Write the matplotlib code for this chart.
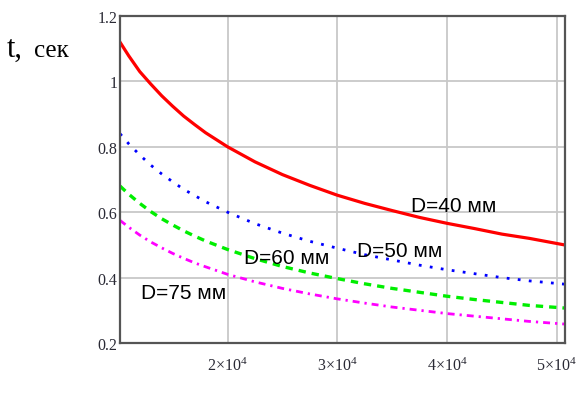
import matplotlib
matplotlib.use("Agg")
import matplotlib.pyplot as plt

# x values (abscissa) and times t, sec
x_vals = [10200, 11000, 12000, 13000, 14000, 15000, 16000, 17000, 18000,
          20000, 22500, 25000, 27500, 30000, 32500, 35000, 37500, 40000,
          42500, 45000, 47500, 50700]
t_d40 = [1.12, 1.078, 1.03, 0.992, 0.956, 0.924, 0.894, 0.868, 0.843,
         0.80, 0.754, 0.715, 0.682, 0.652, 0.627, 0.605, 0.584, 0.566,
         0.55, 0.533, 0.52, 0.50]
t_d50 = [0.84, 0.809, 0.775, 0.744, 0.717, 0.693, 0.67, 0.651, 0.632,
         0.60, 0.565, 0.536, 0.511, 0.49, 0.47, 0.454, 0.438, 0.424,
         0.412, 0.40, 0.39, 0.38]
t_d60 = [0.68, 0.655, 0.627, 0.602, 0.58, 0.561, 0.543, 0.527, 0.512,
         0.486, 0.458, 0.434, 0.414, 0.397, 0.381, 0.367, 0.355, 0.343,
         0.333, 0.324, 0.315, 0.307]
t_d75 = [0.575, 0.554, 0.53, 0.509, 0.491, 0.474, 0.459, 0.445, 0.433,
         0.41, 0.387, 0.367, 0.35, 0.335, 0.322, 0.31, 0.30, 0.29,
         0.282, 0.274, 0.266, 0.258]

x_ticks = [20000, 30000, 40000, 50000]
x_tick_labels = ["2×10$^4$", "3×10$^4$", "4×10$^4$", "5×10$^4$"]
y_ticks = [0.2, 0.4, 0.6, 0.8, 1.0, 1.2]
y_tick_labels = ["0.2", "0.4", "0.6", "0.8", "1", "1.2"]

plt.rcParams["mathtext.default"] = "regular"

fig = plt.figure(figsize=(5.82, 4.06), dpi=100)
ax = fig.add_axes([0.2062, 0.1527, 0.7646, 0.8054])

ax.plot(x_vals, t_d40, color="#ff0000", lw=2.3)
ax.plot(x_vals, t_d50, color="#0000ff", lw=2.0, linestyle=(0, (1, 3)))
ax.plot(x_vals, t_d60, color="#00ee00", lw=2.4, linestyle=(0, (2.2, 1.8)))
ax.plot(x_vals, t_d75, color="#ff00ff", lw=2.0,
        linestyle=(0, (2.5, 1.8, 0.8, 1.8)))

lab = dict(fontsize=15, family="Liberation Sans", color="black", va="center")
ax.text(36700, 0.622, "D=40 мм", **lab)
ax.text(31800, 0.484, "D=50 мм", **lab)
ax.text(21500, 0.463, "D=60 мм", **lab)
ax.text(12100, 0.353, "D=75 мм", **lab)

ax.set_xlim(10200, 50750)
ax.set_ylim(0.2, 1.2)
ax.set_xticks(x_ticks)
ax.set_xticklabels(x_tick_labels)
ax.set_yticks(y_ticks)
ax.set_yticklabels(y_tick_labels)
for lbl in ax.get_xticklabels() + ax.get_yticklabels():
    lbl.set_family("Liberation Serif")
    lbl.set_fontsize(11.5)
    lbl.set_color("#2a2a35")
ax.tick_params(axis="both", length=0)
ax.tick_params(axis="y", pad=2)
ax.tick_params(axis="x", pad=10)

ax.grid(True, color="#c8c8c8", lw=1.3)
ax.set_axisbelow(True)
for sp in ax.spines.values():
    sp.set_color("#555555")
    sp.set_linewidth(1.6)

fig.text(0.012, 0.86, "t,", fontsize=22, family="Liberation Serif", va="baseline")
fig.text(0.059, 0.86, "сек", fontsize=18, family="Liberation Serif", va="baseline")

fig.savefig("out.png", dpi=100)
